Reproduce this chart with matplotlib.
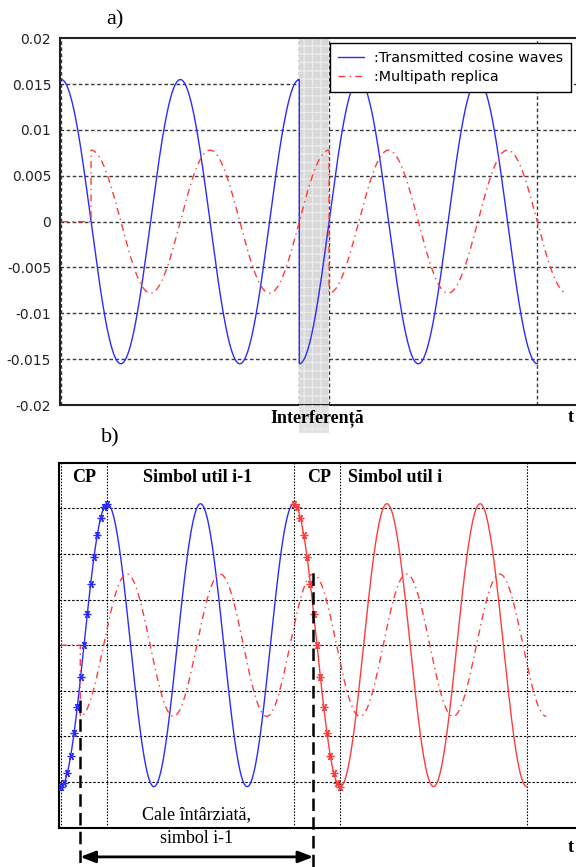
import numpy as np
import matplotlib.pyplot as plt
import matplotlib.transforms as mtransforms
from matplotlib.patches import Rectangle
from matplotlib.lines import Line2D

# ---- valori ----
# a) unda cosinus transmisa si replica multipath
a_amp_tx = 0.0155
a_amp_mp = 0.0078
a_delay = 0.25                      # intarzierea replicii (perioade)
a_segments = [(0.0, 2.0, 0.0), (2.0, 4.0, 0.5)]   # (start, stop, faza in perioade)
a_vgrid = [0.0, 2.0, 2.25, 4.0]
a_yticks = [0.02, 0.015, 0.01, 0.005, 0, -0.005, -0.01, -0.015, -0.02]
a_ylabels = ['0.02', '0.015', '0.01', '0.005', '0', '-0.005', '-0.01', '-0.015', '-0.02']
a_hgrid = [0.015, 0.01, 0.005, 0, -0.005, -0.01, -0.015]
legend_labels = [':Transmitted cosine waves', ':Multipath replica']

# b) prefix ciclic + simboluri utile
b_amp_tx = 0.0155
b_amp_mp = 0.0078
b_delay = 0.21
b_cp1 = (0.0, 0.5)
b_sym1 = (0.5, 2.5)
b_cp2 = (2.5, 3.0)
b_sym2 = (3.0, 5.0)
b_markers = 15
b_vgrid = [0.0, 0.5, 2.5, 3.0, 5.0]
b_hgrid = [0.015, 0.01, 0.005, 0, -0.005, -0.01, -0.015]
b_labels = ['CP', 'Simbol util i-1', 'CP', 'Simbol util i']
b_label_x = [0.25, 1.47, 2.77, 3.59]

blue = '#2b2bff'
red = '#ff3b3b'
serif = 'Liberation Serif'

W, H = 576, 867
fig = plt.figure(figsize=(W / 100, H / 100), dpi=100)


def px_axes(left, top, right, bottom):
    return fig.add_axes([left / W, 1 - bottom / H, (right - left) / W, (bottom - top) / H])


def wave(t0, t1, amp, phase, shift=0.0, n=400):
    x = np.linspace(t0, t1, n)
    return x + shift, amp * np.cos(2 * np.pi * (x - t0 + phase))


# ================= a) =================
ax = px_axes(59.5, 38.3, 600, 405)
ax.set_xlim(-0.0151, 4.527)
ax.set_ylim(-0.02, 0.02)

for y in a_hgrid:
    ax.axhline(y, color='#3a3a3a', lw=1.0, dashes=(2.6, 1.8), zorder=1)
for x in a_vgrid:
    ax.axvline(x, color='#3a3a3a', lw=1.0, dashes=(2.6, 1.8), zorder=1)

ax.axvspan(a_vgrid[1], a_vgrid[2], facecolor='#d8d8d8', edgecolor='#ebebeb',
           hatch='++', lw=0, zorder=2)

xs, ys = [], []
for t0, t1, ph in a_segments:
    x, y = wave(t0, t1, a_amp_tx, ph)
    xs.append(x)
    ys.append(y)
tx_x, tx_y = np.concatenate(xs), np.concatenate(ys)
mp_x = np.concatenate([[0.0, a_delay], tx_x + a_delay])
mp_y = np.concatenate([[0.0, 0.0], tx_y * a_amp_mp / a_amp_tx])

ax.plot(tx_x, tx_y, color=blue, lw=1.0, zorder=3)
ax.plot(mp_x, mp_y, color=red, lw=1.0, dashes=(5, 3, 1, 3), zorder=3)

ax.set_yticks(a_yticks)
ax.set_yticklabels(a_ylabels, fontsize=10, color='#222222')
ax.set_xticks([])
ax.tick_params(axis='y', length=0, pad=6)
for s in ['left', 'bottom', 'top']:
    ax.spines[s].set_linewidth(1.5)
    ax.spines[s].set_color('#222222')
ax.spines['right'].set_visible(False)

handles = [Line2D([], [], color=blue, lw=1.0),
           Line2D([], [], color=red, lw=1.0, dashes=(5, 3, 1, 3))]
leg = ax.legend(handles, legend_labels, loc='upper left',
                bbox_to_anchor=(330 / W, 1 - 43 / H), bbox_transform=fig.transFigure,
                borderaxespad=0, fontsize=10.3, fancybox=False, framealpha=1,
                edgecolor='black', handlelength=1.8, handletextpad=0.7,
                labelspacing=0.35, borderpad=0.55)
leg.get_frame().set_linewidth(1.0)

fig.text(317, H - 418, 'Interferență', transform=None, ha='center', va='center',
         family=serif, fontsize=13, fontweight='bold')
fig.text(568, H - 418, 't', transform=None, ha='left', va='center',
         family=serif, fontsize=13, fontweight='bold')
fig.text(115, H - 20, 'a)', transform=None, ha='center', va='center',
         family=serif, fontsize=16)

# banda gri continua sub axa, peste text
trans = mtransforms.blended_transform_factory(ax.transData, ax.transAxes)
ax.add_patch(Rectangle((a_vgrid[1], -0.076), a_vgrid[2] - a_vgrid[1], 0.076,
                       transform=trans, clip_on=False, facecolor='#d8d8d8',
                       edgecolor='#ebebeb', hatch='++', lw=0, alpha=0.75, zorder=6))

# ================= b) =================
bx = px_axes(58.8, 462.7, 600, 827.7)
bx.set_xlim(-0.0204, 5.786)
bx.set_ylim(-0.02, 0.02)

for y in b_hgrid:
    bx.axhline(y, color='black', lw=0.8, dashes=(2.2, 1.6), zorder=1)
for x in b_vgrid:
    bx.axvline(x, color='black', lw=0.8, dashes=(1.4, 1.4), zorder=1)

x1, y1 = wave(b_cp1[0], b_sym1[1], -b_amp_tx, b_cp1[0])
bx.plot(x1, y1, color=blue, lw=1.0, zorder=3)
xm = np.linspace(b_cp1[0], b_cp1[1], b_markers)
bx.plot(xm, -b_amp_tx * np.cos(2 * np.pi * xm), ls='none', marker=(6, 2, 90),
        ms=5.5, mew=0.9, color=blue, zorder=4)

x2, y2 = wave(b_cp2[0], b_sym2[1], -b_amp_tx, b_cp2[0])
bx.plot(x2, y2, color=red, lw=1.0, zorder=3)
xm = np.linspace(b_cp2[0], b_cp2[1], b_markers)
bx.plot(xm, -b_amp_tx * np.cos(2 * np.pi * xm), ls='none', marker=(6, 2, 90),
        ms=5.5, mew=0.9, color=red, zorder=4)

xd, yd = wave(b_cp1[0], b_sym2[1], -b_amp_mp, 0.0, shift=b_delay)
xd = np.concatenate([[0.0, b_delay], xd])
yd = np.concatenate([[0.0, 0.0], yd])
bx.plot(xd, yd, color=red, lw=1.0, dashes=(5, 3, 1, 3), zorder=3)

for xl, yl in zip(b_label_x, b_labels):
    bx.text(xl, 0.0184, yl, ha='center', va='center', family=serif,
            fontsize=13, fontweight='bold')

# linii de marcare a caii intarziate
bx.plot([b_delay, b_delay], [-0.006, -0.0255], color='black', lw=1.8,
        dashes=(5, 2.5), clip_on=False, zorder=5)
bx.plot([b_cp2[0] + b_delay] * 2, [0.0079, -0.0255], color='black', lw=1.8,
        dashes=(5, 2.5), clip_on=False, zorder=5)
bx.annotate('', xy=(b_cp2[0] + b_delay, -0.0232), xytext=(b_delay, -0.0232),
            arrowprops=dict(arrowstyle='<|-|>,head_length=0.9,head_width=0.35',
                            color='black', lw=2, shrinkA=0, shrinkB=0),
            annotation_clip=False)
bx.text(1.46, -0.0186, 'Cale întârziată,', ha='center', va='center',
        family=serif, fontsize=13)
bx.text(1.46, -0.0212, 'simbol i-1', ha='center', va='center',
        family=serif, fontsize=13)

bx.set_xticks([])
bx.set_yticks([])
for s in ['left', 'bottom', 'top']:
    bx.spines[s].set_linewidth(1.5)
bx.spines['right'].set_visible(False)

fig.text(568, H - 847, 't', transform=None, ha='left', va='center',
         family=serif, fontsize=13, fontweight='bold')
fig.text(110, H - 438, 'b)', transform=None, ha='center', va='center',
         family=serif, fontsize=16)

fig.savefig('out.png', dpi=100)
